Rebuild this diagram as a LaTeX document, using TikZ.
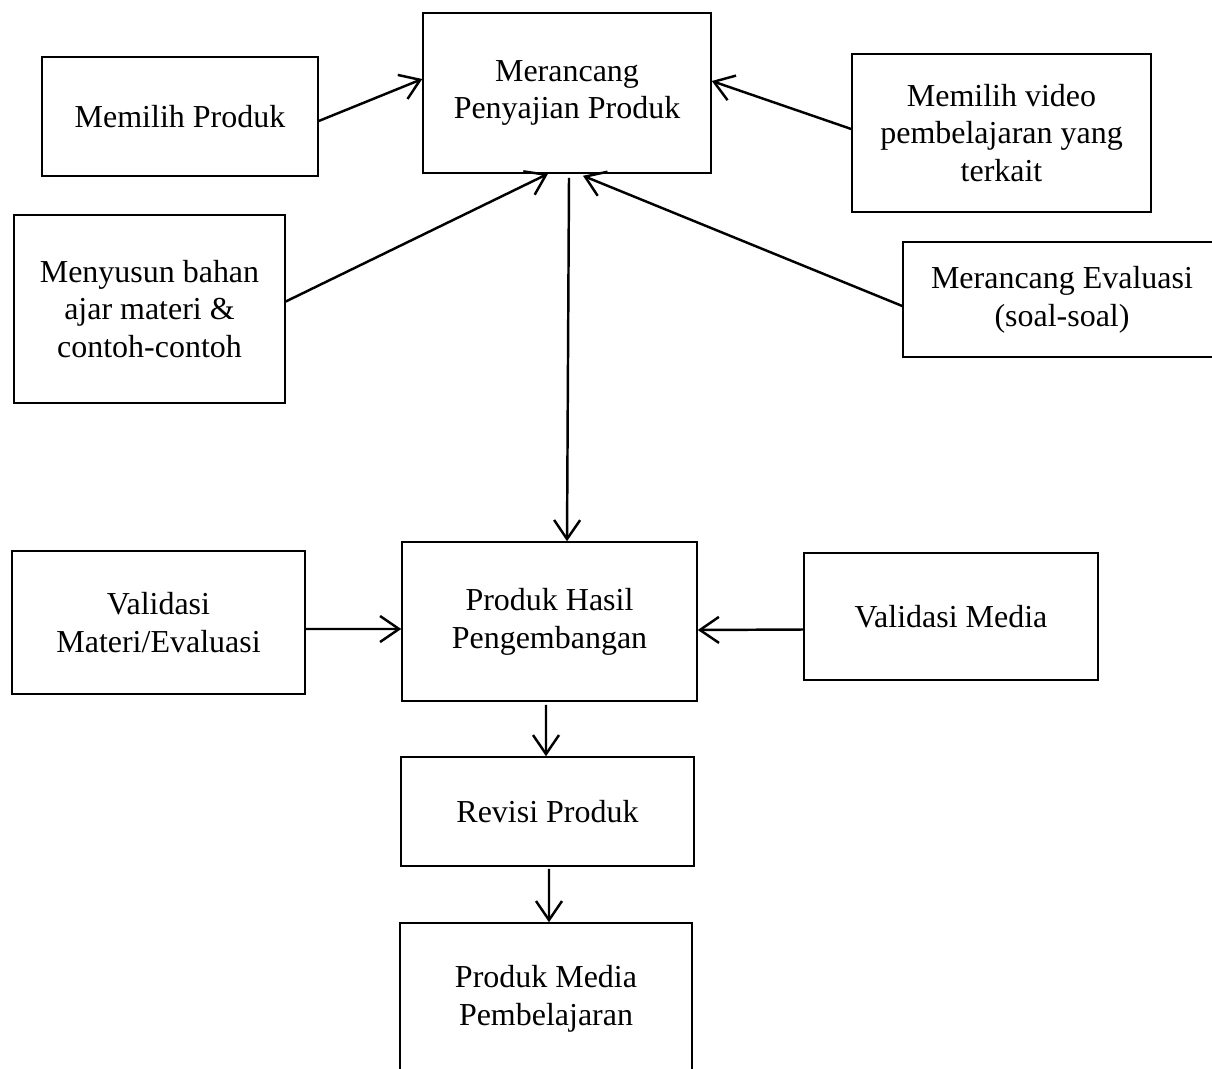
\documentclass[tikz,border=0pt]{standalone}
\usepackage{fontspec}
\setmainfont{Liberation Serif}
\usetikzlibrary{arrows.meta}
\begin{document}
\begin{tikzpicture}[x=0.02cm,y=-0.02cm,
  box/.style={draw, line width=0.9pt, align=center, inner sep=0pt,
    font=\fontsize{18.2}{21.5}\selectfont},
  arr/.style={line width=1.4pt, -{Straight Barb[length=3.8mm,width=5.2mm,line width=1.4pt]}}]
\useasboundingbox (0,0) rectangle (1212,1068);
\clip (0,0) rectangle (1212,1068);
\fill[white] (0,0) rectangle (1212,1068);
\node[box, minimum width=5.52cm, minimum height=2.38cm] (b1) at (180,116.5) {Memilih Produk};
\node[box, minimum width=5.76cm, minimum height=3.2cm] (b2) at (567,93) {Merancang\\Penyajian Produk};
\node[box, minimum width=5.98cm, minimum height=3.16cm] (b3) at (1001.5,133) {Memilih video\\pembelajaran yang\\terkait};
\node[box, minimum width=5.42cm, minimum height=3.76cm] (b4) at (149.5,309) {Menyusun bahan\\ajar materi \&\\contoh-contoh};
\node[box, minimum width=6.36cm, minimum height=2.3cm] (b5) at (1062,299.5) {Merancang Evaluasi\\(soal-soal)};
\node[box, minimum width=5.86cm, minimum height=2.86cm] (b6) at (158.5,622.5) {Validasi\\Materi/Evaluasi};
\node[box, minimum width=5.9cm, minimum height=3.18cm] (b7) at (549.5,621.5) {Produk Hasil\\Pengembangan};
\node[box, minimum width=5.88cm, minimum height=2.54cm] (b8) at (951,616.5) {Validasi Media};
\node[box, minimum width=5.86cm, minimum height=2.18cm] (b9) at (547.5,811.5) {Revisi Produk};
\node[box, minimum width=5.84cm, minimum height=3.04cm] (b10) at (546,999) {Produk Media\\Pembelajaran};
\draw[arr] ([yshift=-0.09cm]b1.east) -- ([yshift=0.28cm]b2.west);
\draw[arr] ([yshift=0.08cm]b3.west) -- ([yshift=0.24cm]b2.east);
\draw[arr] ([yshift=0.15cm]b4.east) -- ([xshift=-0.38cm]b2.south);
\draw[arr] ([yshift=-0.13cm]b5.west) -- ([xshift=0.32cm,yshift=-0.04cm]b2.south);
\draw[arr] ([xshift=0.04cm,yshift=-0.08cm]b2.south) -- ([xshift=0.35cm]b7.north);
\draw[arr] ([yshift=-0.13cm]b6.east) -- ([yshift=-0.15cm]b7.west);
\draw[arr] ([yshift=-0.26cm]b8.west) -- ([yshift=-0.17cm]b7.east);
\draw[arr] ([xshift=-0.07cm,yshift=-0.06cm]b7.south) -- ([xshift=-0.03cm]b9.north);
\draw[arr] ([xshift=0.03cm,yshift=-0.04cm]b9.south) -- ([xshift=0.06cm]b10.north);
\end{tikzpicture}
\end{document}
